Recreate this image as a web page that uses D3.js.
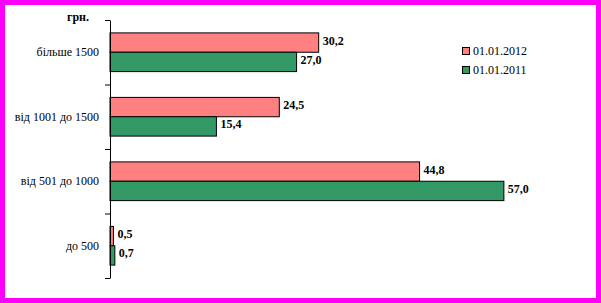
<!DOCTYPE html>
<html>
<head>
<meta charset="utf-8">
<script src="https://cdn.jsdelivr.net/npm/d3@7"></script>
<style>
  body { margin: 0; background: #fff; }
  svg { display: block; }
  svg text { font-family: "Liberation Serif", "Times New Roman", Times, "DejaVu Serif", serif; font-size: 12px; }
</style>
</head>
<body>
<script>
// дані
const categories = ["більше 1500", "від 1001 до 1500", "від 501 до 1000", "до 500"];
const series2012 = [30.2, 24.5, 44.8, 0.5];
const series2011 = [27.0, 15.4, 57.0, 0.7];
const seriesNames = ["01.01.2012", "01.01.2011"];
const colors = ["#FF8080", "#339966"];
const unitLabel = "грн.";

const width = 601, height = 303;

const svg = d3.select("body").append("svg")
    .attr("width", width)
    .attr("height", height);

// рамка
svg.append("rect")
    .attr("x", 2.5).attr("y", 2.5)
    .attr("width", width - 5).attr("height", height - 5)
    .attr("fill", "#fff")
    .attr("stroke", "#FF00FF")
    .attr("stroke-width", 5);

const plotLeft = 110, plotTop = 20, plotBottom = 278;

let x = d3.scaleLinear()
    .domain([0, 60])
    .range([plotLeft, plotLeft + 6.91 * 60]);

let y = d3.scaleBand()
    .domain(categories)
    .range([plotTop, plotBottom])
    .paddingInner(0.4)
    .paddingOuter(0.2);

// межі категорій для засічок
let yEdge = d3.scaleLinear()
    .domain([0, categories.length])
    .range([plotTop, plotBottom]);

let sub = d3.scaleBand()
    .domain([0, 1])
    .range([0, y.bandwidth()]);

const rows = categories.map((c, i) => ({
    cat: c,
    vals: [series2012[i], series2011[i]]
}));

let g = svg.append("g");

let groups = g.selectAll("g.cat")
    .data(rows)
    .enter().append("g")
    .attr("class", "cat")
    .attr("transform", d => "translate(0," + y(d.cat) + ")");

groups.selectAll("rect")
    .data(d => d.vals.map((v, k) => ({ v: v, k: k })))
    .enter().append("rect")
    .attr("x", x(0))
    .attr("y", d => sub(d.k))
    .attr("width", d => x(d.v) - x(0))
    .attr("height", sub.bandwidth())
    .attr("fill", d => colors[d.k])
    .attr("stroke", "#000")
    .attr("stroke-width", 1);

groups.selectAll("text")
    .data(d => d.vals.map((v, k) => ({ v: v, k: k })))
    .enter().append("text")
    .attr("x", d => x(d.v) + 4)
    .attr("y", d => sub(d.k) + sub.bandwidth() / 2 - 2)
    .attr("dominant-baseline", "central")
    .attr("font-weight", "bold")
    .text(d => d3.format(".1f")(d.v).replace(".", ","));

// вісь Y
let axis = svg.append("g")
    .attr("transform", "translate(" + plotLeft + ",0)")
    .call(d3.axisLeft(yEdge)
        .tickValues(d3.range(categories.length + 1))
        .tickFormat("")
        .tickSize(5)
        .tickSizeOuter(0));
axis.select(".domain").attr("stroke", "#000");
axis.selectAll(".tick line").attr("stroke", "#000");

svg.selectAll("text.catlabel")
    .data(categories)
    .enter().append("text")
    .attr("class", "catlabel")
    .attr("x", 99)
    .attr("y", d => y(d) + y.bandwidth() / 2)
    .attr("text-anchor", "end")
    .attr("dominant-baseline", "central")
    .text(d => d);

svg.append("text")
    .attr("x", 67)
    .attr("y", 21)
    .attr("font-weight", "bold")
    .text(unitLabel);

// легенда
let legend = svg.append("g")
    .attr("transform", "translate(462,47)");
let li = legend.selectAll("g")
    .data(seriesNames)
    .enter().append("g")
    .attr("transform", (d, i) => "translate(0," + i * 19 + ")");
li.append("rect")
    .attr("x", 0.5).attr("y", 0.5)
    .attr("width", 7).attr("height", 7)
    .attr("fill", (d, i) => colors[i])
    .attr("stroke", "#000");
li.append("text")
    .attr("x", 11)
    .attr("y", 4)
    .attr("dominant-baseline", "central")
    .text(d => d);
</script>
</body>
</html>
